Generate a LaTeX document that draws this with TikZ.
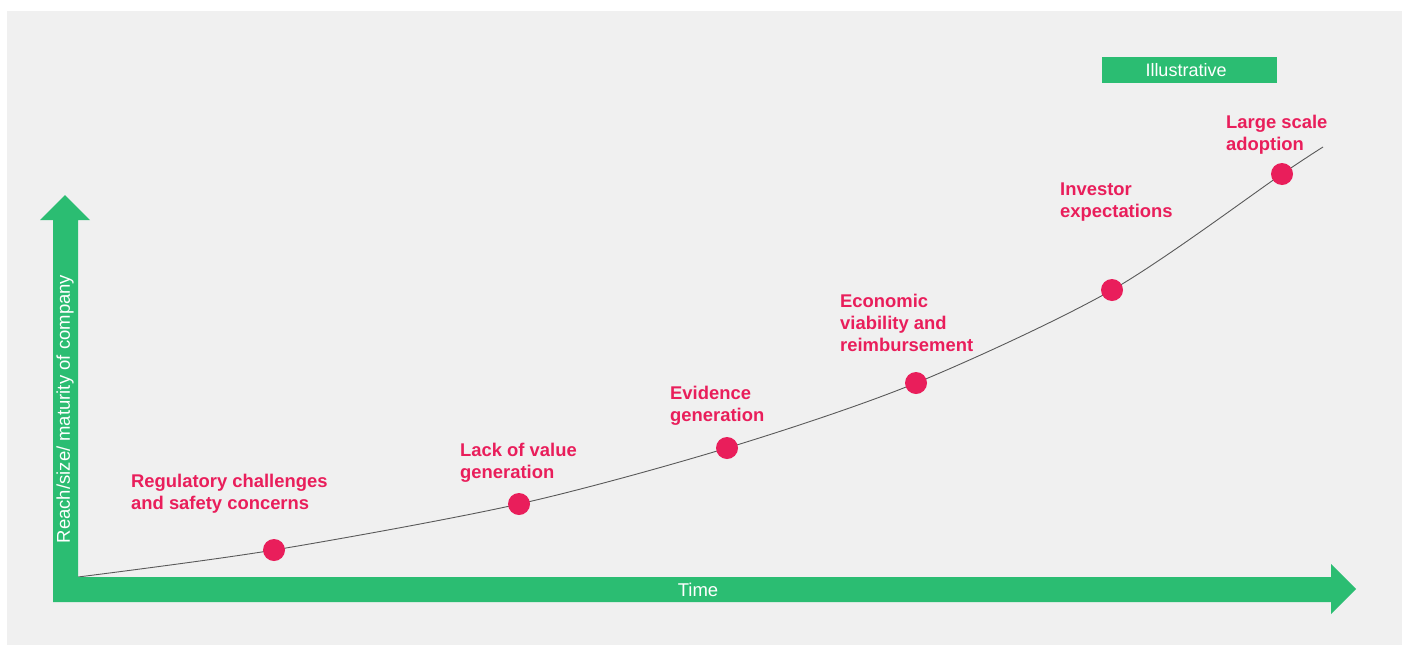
\documentclass[tikz,border=0pt]{standalone}
\usepackage{fontspec}
\setmainfont{Liberation Sans}
\usetikzlibrary{backgrounds}

\definecolor{axisgreen}{HTML}{2BBD72}
\definecolor{stagered}{HTML}{E91E5B}
\definecolor{panelgray}{HTML}{F0F0F0}

\tikzset{
  stagelabel/.style={text=stagered, font=\bfseries\fontsize{18.4}{22}\selectfont,
    align=left, anchor=north west, inner sep=0pt},
  axislabel/.style={text=white, font=\fontsize{18.5}{22}\selectfont, inner sep=0pt},
  curve/.style={draw=black!65, line width=0.9pt}
}

\begin{document}
\begin{tikzpicture}[x=1pt,y=-1pt]

      \useasboundingbox (0,0) rectangle (1408,646);

      % axes drawn as a single filled outline
      \fill[axisgreen] (65,195) -- (90,220) -- (78,220) -- (78,577) -- (1331,577)
        -- (1331,564) -- (1356,589) -- (1331,614) -- (1331,602) -- (53,602)
        -- (53,220) -- (40,220) -- cycle;

      \node[axislabel] (time) at (698,590) {Time};
      \node[axislabel, rotate=90] (reach) at (65,409) {Reach/size/ maturity of company};

      \node[fill=axisgreen, minimum width=175pt, minimum height=26pt, inner sep=0pt]
        (tag) at (1189.5,70) {};
      \node[text=white, font=\fontsize{18}{20}\selectfont, inner sep=0pt]
        (tagtext) at (1186,70) {Illustrative};

      \coordinate (o) at (78,577);
      \coordinate (e) at (1323,147);

      \begin{scope}[every node/.style={circle,fill=stagered,minimum size=22pt,inner sep=0pt}]
        \node (1) at (274,550) {};
        \node (2) at (519,504) {};
        \node (3) at (727,448) {};
        \node (4) at (916,383) {};
        \node (5) at (1112,290) {};
        \node (6) at (1282,174) {};
      \end{scope}

      \begin{pgfonlayer}{background}
        \fill[panelgray] (7,11) rectangle (1402,645);
        \draw[curve] plot[smooth] coordinates {(o) (1.center) (2.center) (3.center)
          (4.center) (5.center) (6.center) (e)};
      \end{pgfonlayer}

      \node[stagelabel] (l1) at (131,474) {Regulatory challenges\\and safety concerns};
      \node[stagelabel] (l2) at (460,443) {Lack of value\\generation};
      \node[stagelabel] (l3) at (670,386) {Evidence\\generation};
      \node[stagelabel] (l4) at (840,294) {Economic\\viability and\\reimbursement};
      \node[stagelabel] (l5) at (1060,183) {Investor\\expectations};
      \node[stagelabel] (l6) at (1226,115) {Large scale\\adoption};

    \end{tikzpicture}
\end{document}
